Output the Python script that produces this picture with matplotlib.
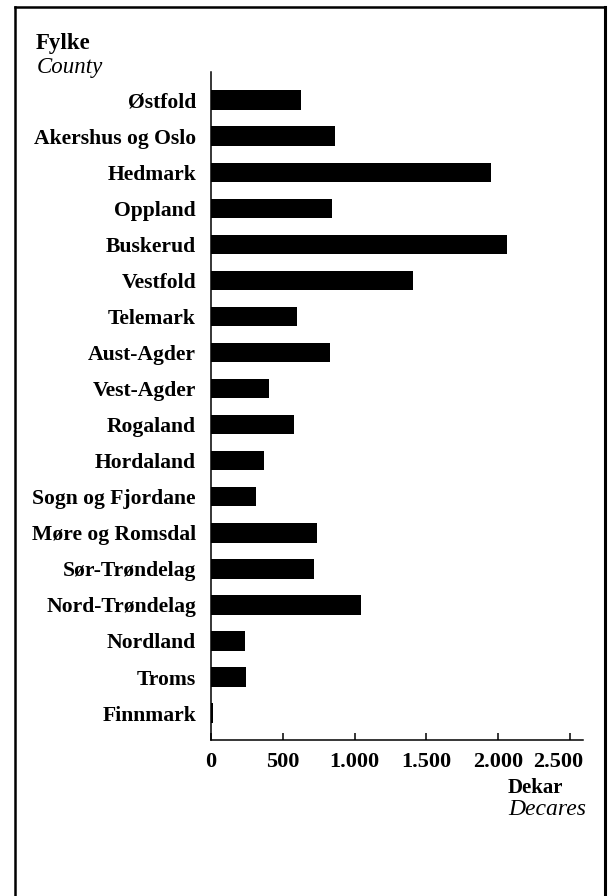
import matplotlib
matplotlib.use("Agg")
import matplotlib.pyplot as plt
from matplotlib.lines import Line2D
from matplotlib.transforms import ScaledTranslation

plt.rcParams.update({"font.family": "Liberation Serif", "font.size": 15.6})

counties = ["Østfold", "Akershus og Oslo", "Hedmark", "Oppland", "Buskerud",
            "Vestfold", "Telemark", "Aust-Agder", "Vest-Agder", "Rogaland",
            "Hordaland", "Sogn og Fjordane", "Møre og Romsdal", "Sør-Trøndelag",
            "Nord-Trøndelag", "Nordland", "Troms", "Finnmark"]
decares = [630, 860, 1950, 840, 2060, 1405, 600, 825, 405, 575,
           370, 315, 740, 715, 1045, 237, 244, 12]
xticks = [0, 500, 1000, 1500, 2000, 2500]
xtick_labels = ["0", "500", "1.000", "1.500", "2.000", "2.500"]

fig = plt.figure(figsize=(6.08, 8.96), dpi=100)
ax = fig.add_axes([0.347, 0.174, 0.612, 0.7456])

ypos = list(range(len(counties)))
ax.barh(ypos, decares, height=0.54, color="black")
ax.set_ylim(17.75, -0.78)
ax.set_xlim(0, 2590)

ax.set_yticks(ypos)
ax.set_yticklabels(counties, fontweight="bold")
ax.tick_params(axis="y", length=0, pad=10.8)
ax.set_xticks(xticks)
ax.set_xticklabels(xtick_labels, fontweight="bold", fontsize=16)
ax.tick_params(axis="x", direction="in", length=5, width=1.1, pad=8.5)
# last label sits a bit left so it stays inside the frame
last = ax.get_xticklabels()[-1]
last.set_transform(last.get_transform() + ScaledTranslation(-12 / 100, 0, fig.dpi_scale_trans))

for s in ["top", "right"]:
    ax.spines[s].set_visible(False)
for s in ["left", "bottom"]:
    ax.spines[s].set_linewidth(1.1)

# header / unit texts
fig.text(36 / 608, 1 - 44 / 896, "Fylke", ha="left", va="center", fontweight="bold", fontsize=16.5)
fig.text(37 / 608, 1 - 67 / 896, "County", ha="left", va="center", style="italic", fontsize=16.5)
fig.text(508 / 608, 1 - 788 / 896, "Dekar", ha="left", va="center", fontweight="bold", fontsize=15)
fig.text(508 / 608, 1 - 809 / 896, "Decares", ha="left", va="center", style="italic", fontsize=17)

# frame around the figure (bottom edge falls outside the page)
x0, x1, y0 = 15 / 608, 605 / 608, 1 - 7 / 896
for xs, ys, lw in [([x0, x0], [0, y0], 1.8), ([x0, x1], [y0, y0], 1.8), ([x1, x1], [y0, 0], 2.2)]:
    fig.add_artist(Line2D(xs, ys, transform=fig.transFigure, color="black", lw=lw))

fig.savefig("out.png", dpi=100)
